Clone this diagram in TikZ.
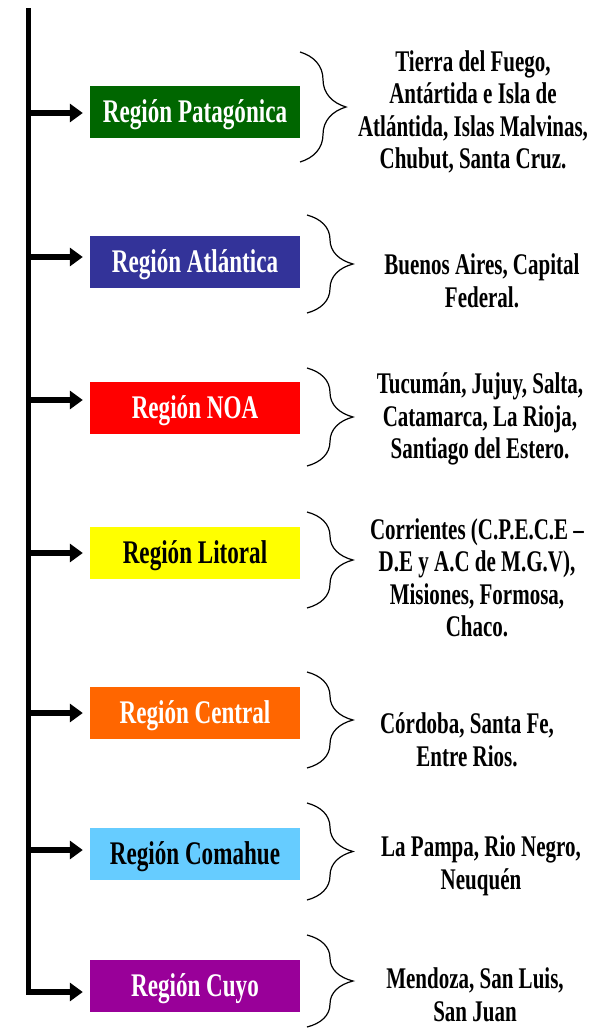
\documentclass[tikz,border=0pt]{standalone}
\usepackage{fontspec}
\newfontfamily\regionfont{Liberation Serif}[FakeStretch=0.70]
\usetikzlibrary{arrows.meta,decorations.pathreplacing,positioning}

\definecolor{verde}{RGB}{0,102,0}
\definecolor{azul}{RGB}{51,51,153}
\definecolor{rojo}{RGB}{255,0,0}
\definecolor{amarillo}{RGB}{255,255,0}
\definecolor{naranja}{RGB}{255,102,0}
\definecolor{celeste}{RGB}{102,204,255}
\definecolor{violeta}{RGB}{153,0,153}

\tikzset{
	region/.style={minimum width=210pt, minimum height=52pt, inner sep=0pt,
		text height=22pt, text depth=0pt,
		font=\regionfont\bfseries\fontsize{33}{36}\selectfont},
	provincias/.style={align=center, inner sep=0pt,
		font=\regionfont\bfseries\fontsize{30}{32.5}\selectfont},
	flecha/.style={line width=5.5pt, -{Triangle[length=13pt,width=18pt]}, shorten >=7pt},
	llave/.style={decorate, decoration={brace, amplitude=46pt}, line width=1.2pt},
}

\begin{document}
\begin{tikzpicture}[x=1pt, y=-1pt]
	\useasboundingbox (0,0) rectangle (608,1031);

	% regiones
	\node[region, fill=verde, text=white]    (patagonica) at (195,111.5) {Región Patagónica};
	\node[region, fill=azul, text=white]     (atlantica)  at (195,261.5) {Región Atlántica};
	\node[region, fill=rojo, text=white]     (noa)        at (195,407.5) {Región NOA};
	\node[region, fill=amarillo, text=black] (litoral)    at (195,552.5) {Región Litoral};
	\node[region, fill=naranja, text=white]  (central)    at (195,712.5) {Región Central};
	\node[region, fill=celeste, text=black]  (comahue)    at (195,853.5) {Región Comahue};
	\node[region, fill=violeta, text=white]  (cuyo)       at (195,985.5) {Región Cuyo};

	% provincias
	\node[provincias] (tpatagonica) at (473,112) {Tierra del Fuego,\\Antártida e Isla de\\Atlántida, Islas Malvinas,\\Chubut, Santa Cruz.};
	\node[provincias] (tatlantica)  at (482,281) {Buenos Aires, Capital\\Federal.};
	\node[provincias] (tnoa)        at (480,419) {Tucumán, Jujuy, Salta,\\Catamarca, La Rioja,\\Santiago del Estero.};
	\node[provincias] (tlitoral)    at (477,578) {Corrientes (C.P.E.C.E –\\D.E y A.C de M.G.V),\\Misiones, Formosa,\\Chaco.};
	\node[provincias] (tcentral)    at (467,740) {Córdoba, Santa Fe,\\Entre Rios.};
	\node[provincias] (tcomahue)    at (481,866) {La Pampa, Rio Negro,\\Neuquén};
	\node[provincias] (tcuyo)       at (475,995) {Mendoza, San Luis,\\San Juan};

	% eje
	\coordinate (top) at (28.5,8);
	\coordinate (s1) at (28.5,113);
	\coordinate (s2) at (28.5,257);
	\coordinate (s3) at (28.5,400);
	\coordinate (s4) at (28.5,553);
	\coordinate (s5) at (28.5,713);
	\coordinate (s6) at (28.5,850);
	\coordinate (s7) at (28.5,992);

	\draw[flecha, line join=miter] (top) -- (s7) -- (s7 -| cuyo.west);
	\draw[flecha] (s1) -- (s1 -| patagonica.west);
	\draw[flecha] (s2) -- (s2 -| atlantica.west);
	\draw[flecha] (s3) -- (s3 -| noa.west);
	\draw[flecha] (s4) -- (s4 -| litoral.west);
	\draw[flecha] (s5) -- (s5 -| central.west);
	\draw[flecha] (s6) -- (s6 -| comahue.west);

	% llaves
	\draw[llave] (300,52) -- (300,162);
	\draw[llave] (307,215) -- (307,313);
	\draw[llave] (307,368) -- (307,466);
	\draw[llave] (307,512) -- (307,608);
	\draw[llave] (307,672) -- (307,768);
	\draw[llave] (307,803) -- (307,900);
	\draw[llave] (307,935) -- (307,1027);
\end{tikzpicture}
\end{document}
